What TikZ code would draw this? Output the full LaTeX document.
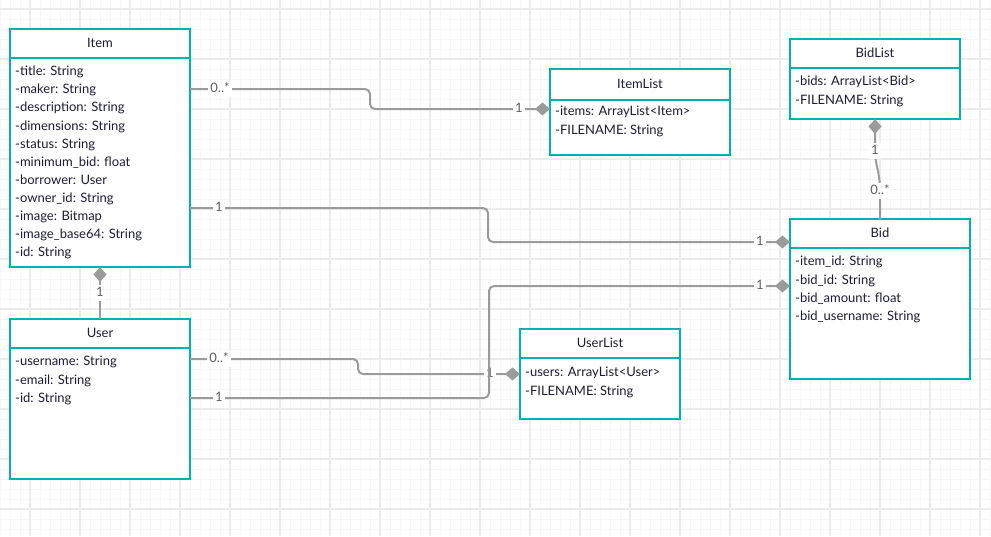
\documentclass[tikz,border=0pt]{standalone}
\usepackage{fontspec}
\setmainfont{Lato}
\usetikzlibrary{arrows.meta}
\definecolor{tealb}{RGB}{0,178,178}
\definecolor{lineg}{RGB}{155,155,155}
\definecolor{txt}{RGB}{30,28,56}
\definecolor{lblc}{RGB}{95,95,95}
\definecolor{gmajor}{RGB}{236,236,236}
\definecolor{gminor}{RGB}{247,247,247}
\begin{document}
\begin{tikzpicture}[x=1pt,y=-1pt,
  cls/.style={draw=tealb, line width=2pt, fill=white, inner sep=0pt, outer sep=0pt, anchor=north west},
  sep/.style={draw=tealb, line width=2pt},
  hdr/.style={font=\fontsize{13}{15}\selectfont, text=txt, inner sep=0pt, text height=9.5pt, text depth=3pt},
  attr/.style={font=\fontsize{13}{15}\selectfont, text=txt, inner sep=0pt, anchor=west, text height=9.5pt, text depth=3pt},
  conn/.style={draw=lineg, line width=2pt, rounded corners=5pt},
  dia/.style={-{Diamond[length=15pt,width=13pt,fill=lineg]}},
  lbl/.style={font=\fontsize{13}{15}\selectfont, text=lblc, fill=white, inner sep=2.5pt, text height=9pt, text depth=2pt}
]
\useasboundingbox (0,0) rectangle (991,536);
\fill[white] (0,0) rectangle (991,536);
% grid
\foreach \x in {0,10,...,990} \draw[gminor, line width=1pt] (\x,0) -- (\x,536);
\foreach \y in {-1,9,...,529} \draw[gminor, line width=1pt] (0,\y) -- (991,\y);
\foreach \x in {30,80,...,980} \draw[gmajor, line width=1.5pt] (\x,0) -- (\x,536);
\foreach \y in {9,59,...,509} \draw[gmajor, line width=1.5pt] (0,\y) -- (991,\y);

% boxes
\node[cls, minimum width=180pt, minimum height=238pt] (item) at (10,29) {};
\node[cls, minimum width=180pt, minimum height=86pt] (itemlist) at (550,69) {};
\node[cls, minimum width=170pt, minimum height=80pt] (bidlist) at (790,39) {};
\node[cls, minimum width=180pt, minimum height=160pt] (bid) at (790,219) {};
\node[cls, minimum width=180pt, minimum height=160pt] (user) at (10,319) {};
\node[cls, minimum width=160pt, minimum height=90pt] (userlist) at (520,329) {};

% separators
\draw[sep] (item.west |- 0,58) -- (item.east |- 0,58);
\draw[sep] (itemlist.west |- 0,100) -- (itemlist.east |- 0,100);
\draw[sep] (bidlist.west |- 0,68) -- (bidlist.east |- 0,68);
\draw[sep] (bid.west |- 0,248) -- (bid.east |- 0,248);
\draw[sep] (user.west |- 0,348) -- (user.east |- 0,348);
\draw[sep] (userlist.west |- 0,358) -- (userlist.east |- 0,358);

% headers
\node[hdr] (itemh) at (100,44.5) {Item};
\node[hdr] (itemlisth) at (640,85.5) {ItemList};
\node[hdr] (bidlisth) at (875,54.5) {BidList};
\node[hdr] (bidh) at (880,234.5) {Bid};
\node[hdr] (userh) at (100,334.5) {User};
\node[hdr] (userlisth) at (600,344.5) {UserList};

% Item attributes
\node[attr] (ia1) at (15,72.5) {-title: String};
\node[attr] (ia2) at (15,90.6) {-maker: String};
\node[attr] (ia3) at (15,108.7) {-description: String};
\node[attr] (ia4) at (15,126.8) {-dimensions: String};
\node[attr] (ia5) at (15,144.9) {-status: String};
\node[attr] (ia6) at (15,163) {-minimum\_bid: float};
\node[attr] (ia7) at (15,181.1) {-borrower: User};
\node[attr] (ia8) at (15,199.2) {-owner\_id: String};
\node[attr] (ia9) at (15,217.3) {-image: Bitmap};
\node[attr] (ia10) at (15,235.4) {-image\_base64: String};
\node[attr] (ia11) at (15,253.5) {-id: String};

% ItemList attributes
\node[attr] (il1) at (555,112.5) {-items: ArrayList<Item>};
\node[attr] (il2) at (555,131.5) {-FILENAME: String};

% BidList attributes
\node[attr] (bl1) at (795,82.5) {-bids: ArrayList<Bid>};
\node[attr] (bl2) at (795,101.5) {-FILENAME: String};

% Bid attributes
\node[attr] (b1) at (795,262.5) {-item\_id: String};
\node[attr] (b2) at (795,280.8) {-bid\_id: String};
\node[attr] (b3) at (795,299.1) {-bid\_amount: float};
\node[attr] (b4) at (795,317.5) {-bid\_username: String};

% User attributes
\node[attr] (u1) at (15,362.5) {-username: String};
\node[attr] (u2) at (15,381) {-email: String};
\node[attr] (u3) at (15,399.5) {-id: String};

% UserList attributes
\node[attr] (ul1) at (525,373.5) {-users: ArrayList<User>};
\node[attr] (ul2) at (525,392.5) {-FILENAME: String};

% connectors
\draw[conn, dia] (item.east |- 0,89) -- (370,89) -- (370,109) -- (itemlist.west |- 0,109);
\node[lbl] (c1a) at (220,89) {0..*};
\node[lbl] (c1b) at (519,109) {1};

\draw[conn, dia] (item.east |- 0,208) -- (488,208) -- (488,242) -- (bid.west |- 0,242);
\node[lbl] (c2a) at (219,208) {1};
\node[lbl] (c2b) at (760,242) {1};

\draw[conn, dia] (user.east |- 0,359) -- (358,359) -- (358,374) -- (userlist.west |- 0,374);
\node[lbl] (c4a) at (219,359) {0..*};
\node[lbl] (c4b) at (490,374) {1};

\draw[conn, dia] (user.east |- 0,398) -- (489,398) -- (489,286) -- (bid.west |- 0,286);
\node[lbl] (c3a) at (219,398) {1};
\node[lbl] (c3b) at (760,286) {1};

\draw[conn, dia] (user.north) -- (item.south);
\node[lbl] (c5a) at (100,293) {1};

\draw[draw=lineg, line width=2pt, dia] (bid.north) -- (880,190) .. controls (880,172) and (875,165) .. (875,150) -- (bidlist.south);
\node[lbl] (c6a) at (875,151) {1};
\node[lbl] (c6b) at (880,191) {0..*};
\end{tikzpicture}
\end{document}
